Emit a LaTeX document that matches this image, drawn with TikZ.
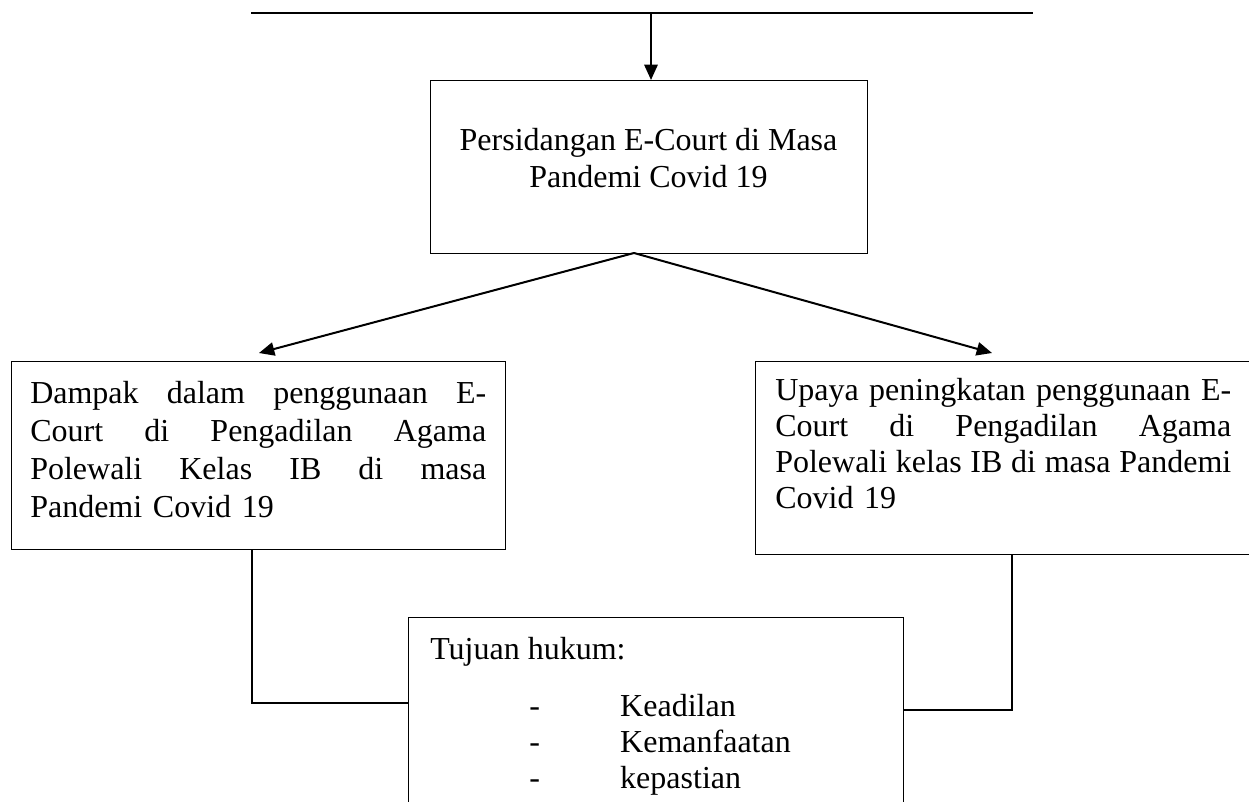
\documentclass[tikz,border=0pt]{standalone}
\usepackage{fontspec}
\setmainfont{Liberation Serif}
\usetikzlibrary{arrows.meta}
\begin{document}
\begin{tikzpicture}[x=0.75pt,y=-0.75pt,
  box/.style={draw=black,line width=0.8pt,rectangle,inner sep=0pt,anchor=north west},
  txt/.style={font=\fontsize{24}{28.5}\selectfont,inner sep=0pt,anchor=base west},
  arr/.style={line width=1.5pt,-{Triangle[length=11.5pt,width=10pt]}},
  conn/.style={line width=0.8pt},
  topline/.style={line width=1.1pt}]
\useasboundingbox (0,0) rectangle (1249,802);
% top line and arrow
\coordinate (tl) at (251,13);
\coordinate (tr) at (1033,13);
\coordinate (tm) at (651,13);
\draw[topline] (tl) -- (tr);
\node[box,minimum width=327.75pt,minimum height=129.75pt] (box1) at (430,80) {};
\node[txt,anchor=base,text width=327.75pt,align=flush center,
  font=\fontsize{24}{27.75}\selectfont] (box1text) at (648.5,151)
  {Persidangan E-Court di Masa\\Pandemi Covid 19};
\draw[arr] (tm) -- (tm |- box1.north);
% left box
\node[box,minimum width=370.5pt,minimum height=141pt] (left) at (11,361) {};
\node[txt,text width=342pt,align=left] (lefttext) at (30,403)
  {\makebox[\linewidth]{Dampak\hfill dalam\hfill penggunaan\hfill E-}\\
   \makebox[\linewidth]{Court\hfill di\hfill Pengadilan\hfill Agama}\\
   \makebox[\linewidth]{Polewali\hfill Kelas\hfill IB\hfill di\hfill masa}\\
   Pandemi Covid 19};
% right box
\node[box,minimum width=372.75pt,minimum height=144.75pt] (right) at (755,361) {};
\node[txt,text width=342pt,align=left,font=\fontsize{24}{27}\selectfont] (righttext) at (775,400)
  {\makebox[\linewidth]{Upaya\hfill peningkatan\hfill penggunaan\hfill E-}\\
   \makebox[\linewidth]{Court\hfill di\hfill Pengadilan\hfill Agama}\\
   \makebox[\linewidth]{Polewali\hfill kelas\hfill IB\hfill di\hfill masa\hfill Pandemi}\\
   Covid 19};
% arrows from box1
\coordinate (apex) at (634,253);
\coordinate (lt) at (259,353);
\coordinate (rt) at (992,353);
\draw[arr] (apex) -- (lt);
\draw[arr] (apex) -- (rt);
% bottom box
\node[box,minimum width=371.25pt,minimum height=152.25pt] (goal) at (408,617) {};
\node[txt] (goalhead) at (430,659) {Tujuan hukum:};
\node[txt,text width=200pt,align=left,font=\fontsize{24}{27}\selectfont] (goallist) at (529,716)
  {\makebox[68.25pt][l]{-}Keadilan\\
   \makebox[68.25pt][l]{-}Kemanfaatan\\
   \makebox[68.25pt][l]{-}kepastian};
% connectors
\coordinate (lx) at (252,703);
\coordinate (rx) at (1012,710);
\draw[conn] (lx |- left.south) -- (lx) -- (lx -| goal.west);
\draw[conn] (rx |- right.south) -- (rx) -- (rx -| goal.east);
\end{tikzpicture}
\end{document}
